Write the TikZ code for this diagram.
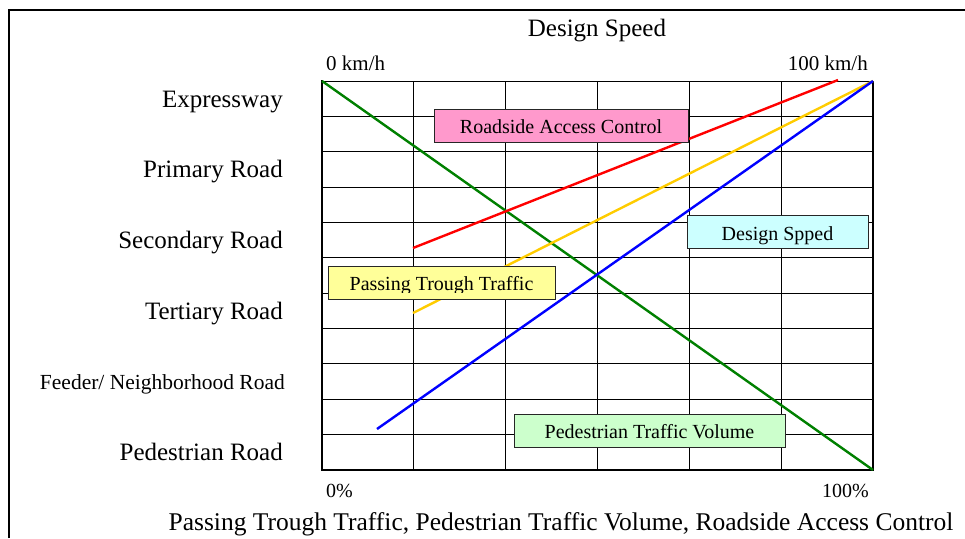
\documentclass[tikz,border=0pt]{standalone}
\usepackage{fontspec}
\setmainfont{Liberation Serif}
\definecolor{accpink}{RGB}{255,153,204}
\definecolor{spdcyan}{RGB}{204,255,255}
\definecolor{passyel}{RGB}{255,255,153}
\definecolor{pedgreen}{RGB}{204,255,204}
\definecolor{serGreen}{RGB}{0,128,0}
\definecolor{serBlue}{RGB}{0,0,255}
\definecolor{serRed}{RGB}{255,0,0}
\definecolor{serYellow}{RGB}{255,204,0}
\begin{document}
\begin{tikzpicture}[x=1pt,y=-1pt,
  gridline/.style={line width=1pt},
  axisline/.style={line width=2pt},
  series/.style={line width=2.4pt},
  legendbox/.style={draw=black!85,line width=1.4pt,inner sep=0pt,anchor=north west},
  rowlabel/.style={anchor=base east,inner sep=0pt,font=\fontsize{25}{30}\selectfont},
  smalllabel/.style={inner sep=0pt,font=\fontsize{21}{25}\selectfont},
  boxtext/.style={anchor=base,inner sep=0pt,font=\fontsize{20}{24}\selectfont},
]
\useasboundingbox (0,0) rectangle (965,538);
% outer frame (open to the right and bottom)
\draw[line width=2pt] (9,538) -- (9,10) -- (965,10);

% grid
\foreach \i in {1,...,5}
  \draw[gridline] ({322+\i*91.833},81) -- ({322+\i*91.833},470);
\foreach \j in {1,...,10}
  \draw[gridline] (322,{81+\j*35.364}) -- (873,{81+\j*35.364});
\draw[gridline] (322,81) -- (873,81);
\draw[axisline] (873,81) -- (873,470);
\draw[axisline] (322,80) -- (322,470) -- (874,470);

% titles and axis labels
\node[anchor=base,inner sep=0pt,font=\fontsize{25}{30}\selectfont] (title) at (597,36) {Design Speed};
\node[smalllabel,anchor=base west] (kmlow) at (326,70.7) {0 km/h};
\node[smalllabel,anchor=base east] (kmhigh) at (868,70.7) {100 km/h};
\node[inner sep=0pt,anchor=base west,font=\fontsize{20}{24}\selectfont] (pctlow) at (326,497) {0\%};
\node[inner sep=0pt,anchor=base east,font=\fontsize{20}{24}\selectfont] (pcthigh) at (869,497) {100\%};
\node[anchor=base,inner sep=0pt,font=\fontsize{25.5}{30}\selectfont] (xtitle) at (561,530)
  {Passing Trough Traffic, Pedestrian Traffic Volume, Roadside Access Control};

% road classes
\node[rowlabel] (rExp) at (283,107.2) {Expressway};
\node[rowlabel] (rPri) at (283,177.9) {Primary Road};
\node[rowlabel] (rSec) at (283,248.6) {Secondary Road};
\node[rowlabel] (rTer) at (283,319.3) {Tertiary Road};
\node[rowlabel,font=\fontsize{21.5}{25}\selectfont] (rFee) at (285,389.3) {Feeder/ Neighborhood Road};
\node[rowlabel] (rPed) at (283,460.8) {Pedestrian Road};

% series end points
\coordinate (gA) at (322,81);   \coordinate (gB) at (873,470);
\coordinate (bA) at (377,429);  \coordinate (bB) at (873,81);
\coordinate (rA) at (413,248);  \coordinate (rB) at (838,80);
\coordinate (yA) at (413,313);  \coordinate (yB) at (873,81);

\draw[series,serGreen] (gA) -- (gB);
\draw[series,serRed] (rA) -- (rB);
\draw[series,serYellow] (yA) -- (yB);
\draw[series,serBlue] (bA) -- (bB);

% legend boxes
\node[legendbox,fill=accpink,minimum width=254pt,minimum height=33pt] (accbox) at (434,109) {};
\node[boxtext] (acctext) at (561,133) {Roadside Access Control};

\node[legendbox,fill=spdcyan,minimum width=181pt,minimum height=33pt] (spdbox) at (687,215) {};
\node[boxtext] (spdtext) at (777.5,240) {Design Spped};

\node[legendbox,fill=passyel,minimum width=227pt,minimum height=33pt] (passbox) at (328,266) {};
\begin{scope}
  \clip (329,267) rectangle (554,292);
  \node[boxtext] (passtext) at (441.5,290) {Passing Trough Traffic};
\end{scope}

\node[legendbox,fill=pedgreen,minimum width=271pt,minimum height=33pt] (pedbox) at (514,414) {};
\node[boxtext] (pedtext) at (649.5,438) {Pedestrian Traffic Volume};
\end{tikzpicture}
\end{document}
